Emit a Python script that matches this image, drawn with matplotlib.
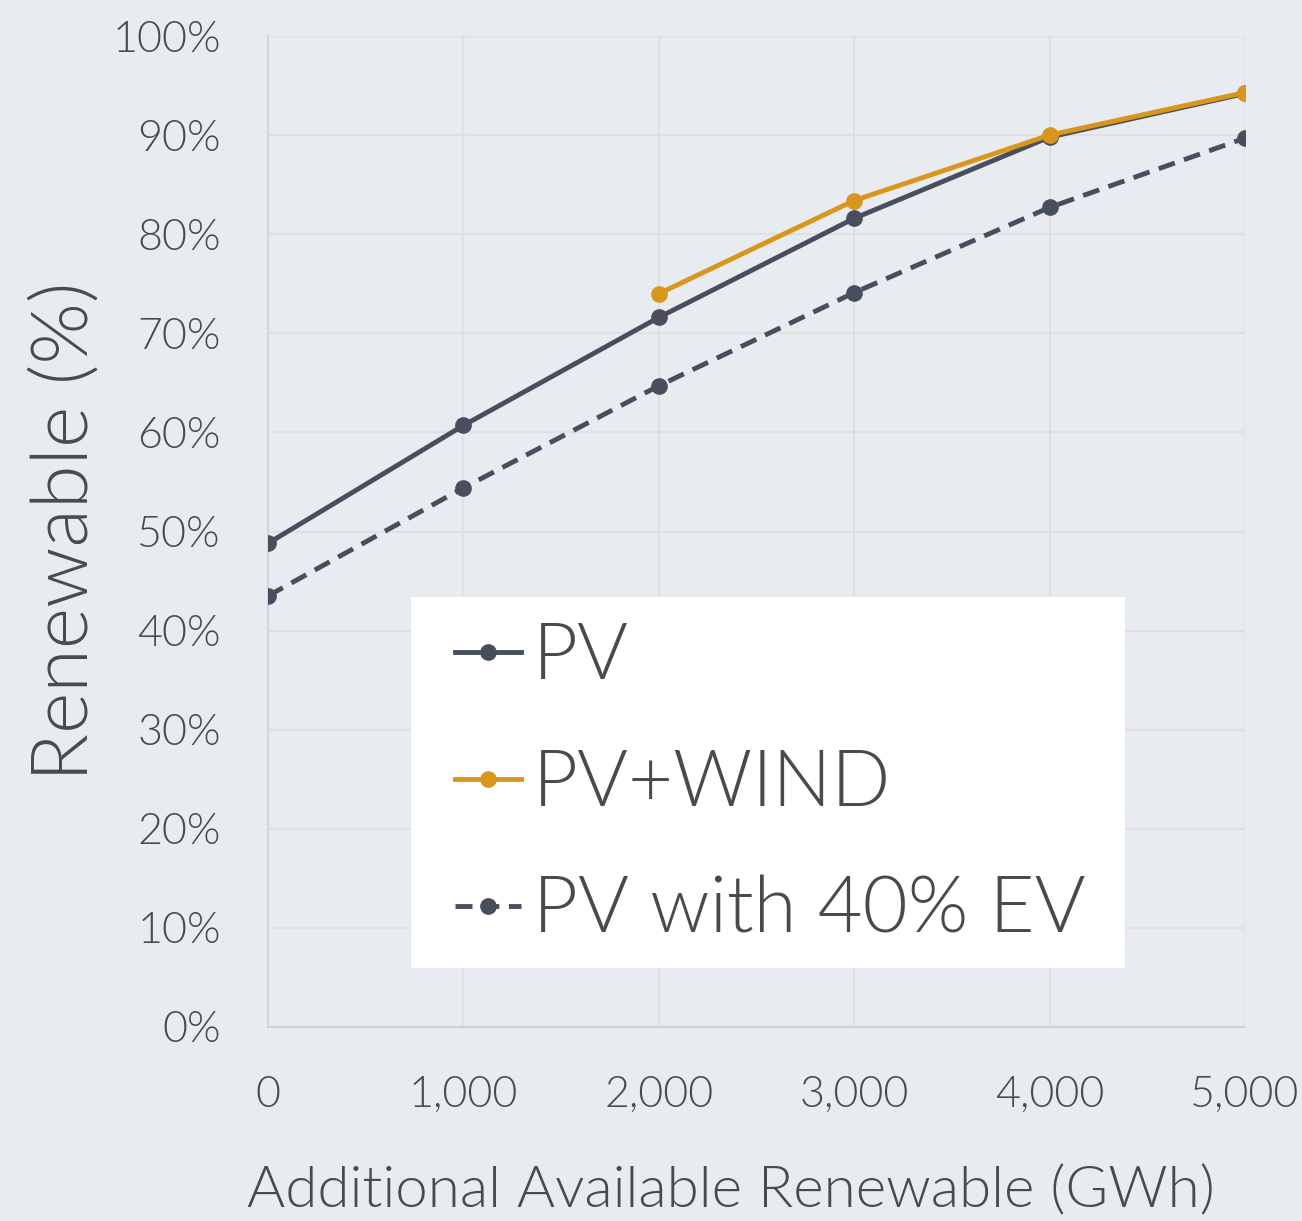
import matplotlib
matplotlib.use("Agg")
import matplotlib.pyplot as plt
from matplotlib.patches import Rectangle
from matplotlib.ticker import FuncFormatter, MultipleLocator

plt.rcParams['font.family'] = ['Lato', 'DejaVu Sans']
plt.rcParams['font.weight'] = 300

# additional renewable (GWh) and resulting renewable share (%)
x_all = [0, 1000, 2000, 3000, 4000, 5000]
pv = [48.8, 60.7, 71.6, 81.6, 89.8, 94.2]
x_wind = [2000, 3000, 4000, 5000]
pv_wind = [74.0, 83.4, 90.0, 94.3]
pv_ev = [43.5, 54.4, 64.7, 74.1, 82.7, 89.7]

navy = '#474e5d'
gold = '#d9961c'
bg = '#e8ebf0'
text_c = '#4a4a4a'

fig = plt.figure(figsize=(13.02, 12.21), dpi=100, facecolor=bg)
ax = fig.add_axes([0.2058, 0.1589, 0.7504, 0.8116], facecolor=bg)

ax.plot(x_all, pv, color=navy, lw=3.5, marker='o', ms=11, label='PV', zorder=3)
ax.plot(x_wind, pv_wind, color=gold, lw=3.5, marker='o', ms=11, label='PV+WIND', zorder=4)
ax.plot(x_all, pv_ev, color=navy, lw=3.5, ls=(0, (3.5, 2)), marker='o', ms=11,
        label='PV with 40% EV', zorder=3)

ax.set_xlim(0, 5000)
ax.set_ylim(0, 100)
ax.xaxis.set_major_locator(MultipleLocator(1000))
ax.yaxis.set_major_locator(MultipleLocator(10))
ax.xaxis.set_major_formatter(FuncFormatter(lambda v, p: f"{int(v):,}"))
ax.yaxis.set_major_formatter(FuncFormatter(lambda v, p: f"{int(v)}%"))

ax.grid(True, color='#dfe0e2', lw=1.5)
ax.set_axisbelow(True)
for s in ['top', 'right']:
    ax.spines[s].set_visible(False)
ax.spines['left'].set_color('#d4d6d8')
ax.spines['bottom'].set_color('#cfd1d3')
ax.spines['left'].set_linewidth(1.5)
ax.spines['bottom'].set_linewidth(1.5)

ax.tick_params(length=0, labelsize=31, labelcolor=text_c)
ax.tick_params(axis='x', pad=35)
ax.tick_params(axis='y', pad=34)
for lab in ax.get_xticklabels() + ax.get_yticklabels():
    lab.set_fontweight(300)

ax.set_xlabel('Additional Available Renewable (GWh)', fontsize=42, color=text_c,
              labelpad=37, fontweight=300)
ax.xaxis.label.set_x(0.474)
ax.set_ylabel('Renewable (%)', fontsize=57, color=text_c, labelpad=8,
              fontweight=300)

# white panel behind the legend
ax.add_patch(Rectangle((0.1464, 0.0595), 0.7306, 0.3744, transform=ax.transAxes,
                       facecolor='white', edgecolor='none', zorder=5))

leg = ax.legend(loc='upper left', bbox_to_anchor=(0.1914, 0.4087),
                frameon=False, handlelength=0.85, handletextpad=0.15,
                borderpad=0, labelspacing=0.71, borderaxespad=0,
                prop={'size': 56, 'weight': 300})
leg.set_zorder(6)
for t in leg.get_texts():
    t.set_color(text_c)

fig.savefig('out.png', dpi=100, facecolor=bg)
